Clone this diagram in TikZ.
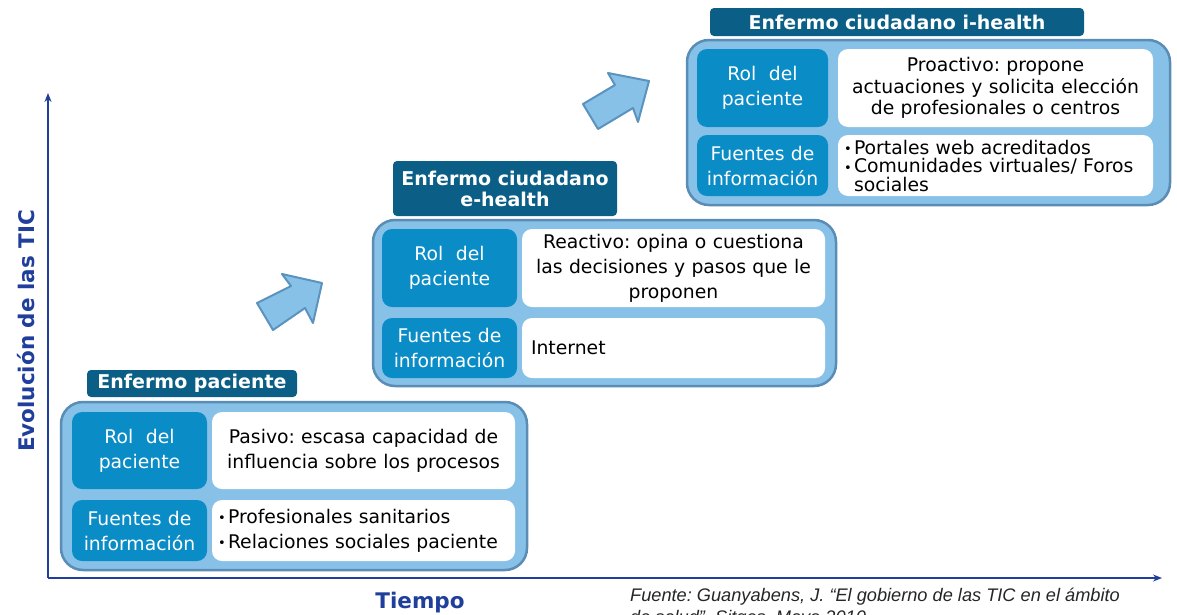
\documentclass[tikz,border=0pt]{standalone}
\usepackage{fontspec}
\setmainfont{DejaVu Sans}
\newfontfamily\srcfont{Liberation Sans}
\usetikzlibrary{arrows.meta}
\definecolor{outerfill}{HTML}{88C1E7}
\definecolor{outerline}{HTML}{5A8DB5}
\definecolor{rolfill}{HTML}{0A8CC7}
\definecolor{headfill}{HTML}{0B5F87}
\definecolor{axiscol}{HTML}{203F9C}
\definecolor{arrowline}{HTML}{5B93BF}
\newcommand\mybul{\makebox[10pt][l]{\raisebox{0.5pt}{\fontsize{13}{13}\selectfont•}}}
\frenchspacing
\tikzset{
  outerbox/.style={draw=outerline, line width=2.5pt, fill=outerfill, rounded corners=22pt, inner sep=0pt},
  labelbox/.style={fill=rolfill, rounded corners=10pt, text=white, align=center, inner xsep=4pt, inner ysep=0pt, font=\fontsize{18.8}{25}\selectfont},
  whitebox/.style={fill=white, rounded corners=10pt, text=black, align=center, inner xsep=6pt, inner ysep=0pt, font=\fontsize{18.8}{25}\selectfont},
  headbox/.style={fill=headfill, rounded corners=4pt, text=white, align=center, inner sep=0pt, font=\bfseries\fontsize{19}{21}\selectfont},
  bigarrow/.style={fill=outerfill, draw=arrowline, line width=2pt, line join=round},
  axis/.style={draw=axiscol, line width=2pt, -{Stealth[length=9pt,width=7pt]}},
  axislab/.style={text=axiscol, font=\bfseries\fontsize{21.5}{24}\selectfont, inner sep=0pt},
  srctext/.style={anchor=base west, inner sep=0pt, text=black!85, font=\srcfont\itshape\fontsize{18.2}{20}\selectfont}
}
\begin{document}
\begin{tikzpicture}[x=1pt,y=-1pt]
\path[use as bounding box, clip] (0,0) rectangle (1177,614);
\fill[white] (0,0) rectangle (1177,614);

% axes
\coordinate (O) at (48,578);
\coordinate (ytop) at (48,93);
\coordinate (xend) at (1162,578);
\draw[axis] (O) -- (ytop);
\draw[axis] (O) -- (xend);
\node[axislab] (tiempo) at (420,603) {Tiempo};
\node[axislab, rotate=90] (evol) at (26,331) {Evolución de las TIC};

% source
\node[srctext] (src1) at (630,601) {Fuente: Guanyabens, J. “El gobierno de las TIC en el ámbito};
\node[srctext] (src2) at (630,623) {de salud”. Sitges. Mayo 2010};

% step arrows
\draw[bigarrow] (257,303) -- (291,286) -- (282,274) -- (322,283) -- (313,323) -- (305,308) -- (273,330) -- cycle;
\draw[bigarrow] (583,104) -- (615,85) -- (608,73) -- (649,81) -- (638,122) -- (633,108) -- (598,129) -- cycle;

% ---------- Box 1
\node[outerbox, minimum width=466pt, minimum height=168pt] (b1) at (294,486) {};
\node[labelbox, minimum width=135pt, minimum height=77pt, text width=127pt] (b1rol) at (139.5,450.5) {Rol~~del\\paciente};
\node[whitebox, minimum width=303pt, minimum height=77pt, text width=291pt] (b1rolt) at (363.5,450.5) {Pasivo: escasa capacidad de\\influencia sobre los procesos};
\node[labelbox, minimum width=135pt, minimum height=61pt, text width=127pt] (b1fue) at (139.5,530.5) {Fuentes de\\información};
\node[whitebox, align=left, minimum width=303pt, minimum height=61pt, text width=291pt] (b1fuet) at (363.5,530.5) {\mybul Profesionales sanitarios\\\mybul Relaciones sociales paciente};
\node[headbox, minimum width=210pt, minimum height=27pt] (h1) at (192,383.5) {Enfermo paciente};

% ---------- Box 2
\node[outerbox, minimum width=463pt, minimum height=166pt] (b2) at (604.5,303) {};
\node[labelbox, minimum width=135pt, minimum height=78pt, text width=127pt] (b2rol) at (449.5,268) {Rol~~del\\paciente};
\node[whitebox, minimum width=303pt, minimum height=78pt, text width=291pt] (b2rolt) at (673.5,268) {Reactivo: opina o cuestiona\\las decisiones y pasos que le\\proponen};
\node[labelbox, minimum width=135pt, minimum height=60pt, text width=127pt] (b2fue) at (449.5,348) {Fuentes de\\información};
\node[whitebox, align=left, inner xsep=9pt, minimum width=303pt, minimum height=60pt, text width=285pt] (b2fuet) at (673.5,348) {Internet};
\node[headbox, minimum width=224pt, minimum height=55pt] (h2) at (505,188.5) {Enfermo ciudadano\\e-health};

% ---------- Box 3
\node[outerbox, minimum width=483pt, minimum height=165pt] (b3) at (928.5,122.5) {};
\node[labelbox, minimum width=131pt, minimum height=78pt, text width=123pt] (b3rol) at (762.5,88) {Rol~~del\\paciente};
\node[whitebox, font=\fontsize{18.8}{21.5}\selectfont, minimum width=315pt, minimum height=78pt, text width=303pt] (b3rolt) at (995.5,88) {Proactivo: propone\\actuaciones y solicita elección\\de profesionales o centros};
\node[labelbox, minimum width=131pt, minimum height=61pt, text width=123pt] (b3fue) at (762.5,165.5) {Fuentes de\\información};
\node[whitebox, align=left, font=\fontsize{18.8}{18.5}\selectfont, minimum width=315pt, minimum height=61pt, text width=303pt] (b3fuet) at (995.5,165.5) {\mybul Portales web acreditados\\\mybul Comunidades virtuales/ Foros\\\hspace*{10pt}sociales};
\node[headbox, minimum width=374pt, minimum height=28pt] (h3) at (897,22) {Enfermo ciudadano i-health};
\end{tikzpicture}
\end{document}
